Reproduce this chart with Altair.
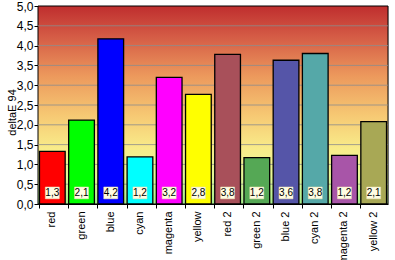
import altair as alt
import pandas as pd

categories = ["red", "green", "blue", "cyan", "magenta", "yellow",
              "red 2", "green 2", "blue 2", "cyan 2", "magenta 2", "yellow 2"]
values = [1.33, 2.12, 4.17, 1.19, 3.20, 2.77, 3.78, 1.17, 3.63, 3.80, 1.23, 2.08]
colors = ["#FF0000", "#00FF00", "#0000FF", "#00FFFF", "#FF00FF", "#FFFF00",
          "#A8505A", "#55A855", "#5555A8", "#55A8A8", "#A855A8", "#A8A855"]
grid_values = [0.5, 1.0, 1.5, 2.0, 2.5, 3.0, 3.5, 4.0, 4.5]
tick_values = [0, 0.5, 1, 1.5, 2, 2.5, 3, 3.5, 4, 4.5, 5]

W, H = 350, 198
FONT = "Liberation Sans"

df = pd.DataFrame({"cat": categories, "v": values, "col": colors})
df["lbl"] = [f"{v:.1f}".replace(".", ",") for v in values]

xaxis = alt.Axis(title=None, labelAngle=-90, labelFontSize=11, labelFont=FONT,
                 labelColor="black", labelPadding=3, tickSize=4,
                 tickColor="black", domainColor="black", bandPosition=0,
                 labelBaseline="middle", labelOverlap=False)
xscale = alt.Scale(paddingInner=0.12, paddingOuter=0.05)
yaxis = alt.Axis(title="deltaE 94", values=tick_values,
                 labelExpr="replace(format(datum.value, '.1f'), '.', ',')",
                 labelOverlap=False,
                 labelFontSize=12, labelFont=FONT, labelColor="black",
                 labelPadding=1, tickSize=4, tickColor="black",
                 domainColor="black", grid=False, labelFlush=False,
                 titleFont=FONT, titleFontSize=11, titleFontWeight="normal",
                 titleColor="black", titleAngle=-90, titleX=-23, titleY=106,
                 titleBaseline="alphabetic", titleAlign="center")
yscale = alt.Scale(domain=[0, 5], nice=False)

bg = alt.Chart(alt.Data(values=[{"a": 1}])).mark_rect(
    fill=alt.Gradient(gradient="linear", x1=0, x2=0, y1=0, y2=1, stops=[
        alt.GradientStop(offset=0.0, color="#BF2E2E"),
        alt.GradientStop(offset=0.15, color="#D45A45"),
        alt.GradientStop(offset=0.35, color="#EC985C"),
        alt.GradientStop(offset=0.55, color="#F6C873"),
        alt.GradientStop(offset=0.72, color="#F8EC8A"),
        alt.GradientStop(offset=0.86, color="#E6F898"),
        alt.GradientStop(offset=1.0, color="#A6EE8E"),
    ]),
    stroke="black", strokeWidth=1
).encode(x=alt.value(0), x2=alt.value(W), y=alt.value(0), y2=alt.value(H))

grid = alt.Chart(pd.DataFrame({"g": grid_values})).mark_rule(
    color="#8C8C8C", opacity=0.8, strokeWidth=1
).encode(y=alt.Y("g:Q", scale=yscale, axis=yaxis))

bars = alt.Chart(df).mark_bar(stroke="black", strokeWidth=1.3).encode(
    x=alt.X("cat:N", sort=categories, scale=xscale, axis=xaxis),
    y=alt.Y("v:Q", scale=yscale, axis=yaxis),
    color=alt.Color("col:N", scale=None),
)

boxes = alt.Chart(df).mark_bar(width=14, fill="#FFFCE2", stroke="#E8E0B0", strokeWidth=0.5).encode(
    x=alt.X("cat:N", sort=categories, scale=xscale, axis=xaxis),
    y=alt.YDatum(0.13, scale=yscale, axis=yaxis),
    y2=alt.datum(0.43),
)

texts = alt.Chart(df).mark_text(fontSize=10, font=FONT, color="black").encode(
    x=alt.X("cat:N", sort=categories, scale=xscale, axis=xaxis),
    y=alt.YDatum(0.28, scale=yscale, axis=yaxis),
    text="lbl:N",
)

chart = alt.layer(bg, grid, bars, boxes, texts).properties(
    width=W, height=H,
    autosize="none",
    padding={"left": 38, "top": 6, "right": 7, "bottom": 56},
).configure_view(stroke=None).configure(background="white")

chart.save("out.html", embed_options={"renderer": "svg", "actions": False})
